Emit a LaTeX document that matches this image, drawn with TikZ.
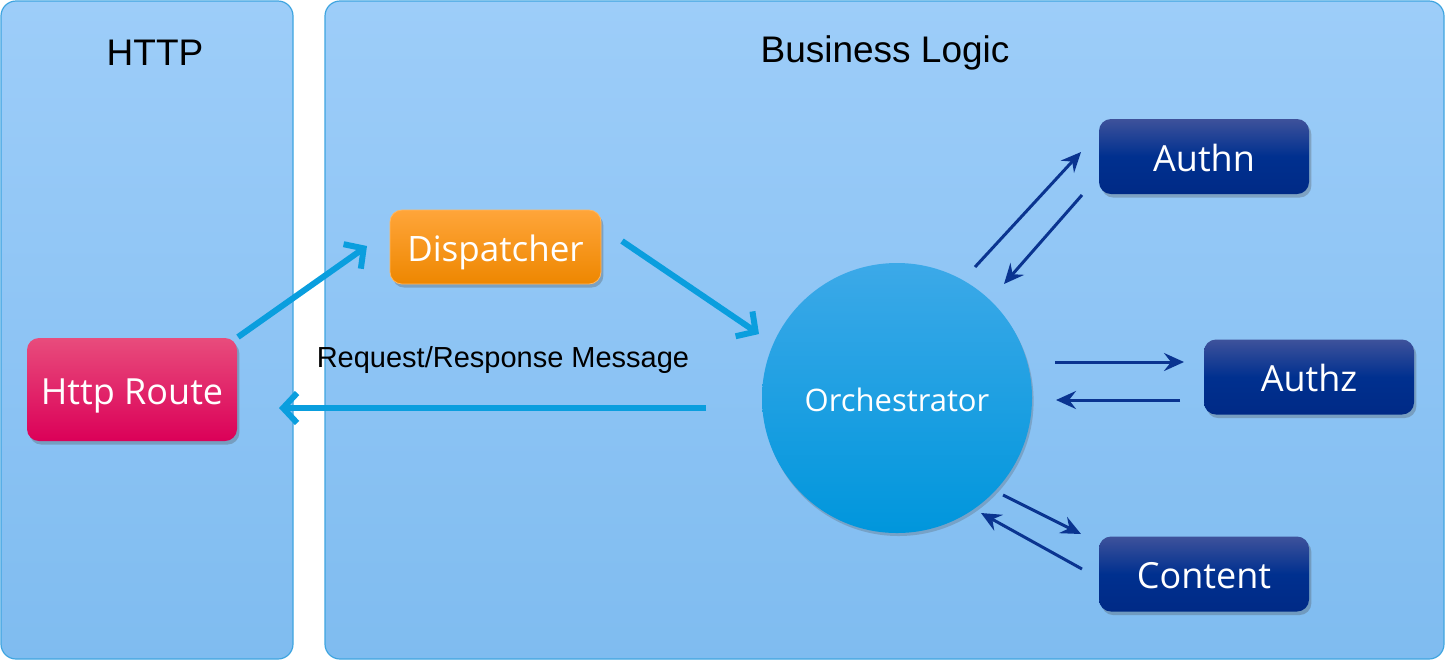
\documentclass[tikz,border=0pt]{standalone}
\usepackage{fontspec}
\setmainfont{Liberation Sans}
\newfontfamily\boxfont{Open Sans}
\usetikzlibrary{arrows.meta,shadows,positioning}
\definecolor{paneltop}{HTML}{9DCDF9}
\definecolor{panelbot}{HTML}{7FBCF0}
\definecolor{panelline}{HTML}{3FA5E0}
\definecolor{routetop}{HTML}{E84C7C}
\definecolor{routebot}{HTML}{DB0058}
\definecolor{disptop}{HTML}{FFA53A}
\definecolor{dispbot}{HTML}{EE8700}
\definecolor{navytop}{HTML}{3E529B}
\definecolor{navymid}{HTML}{00308F}
\definecolor{navybot}{HTML}{002A86}
\definecolor{orchtop}{HTML}{3CA9E8}
\definecolor{orchbot}{HTML}{0096DC}
\definecolor{thickblue}{HTML}{0A9EDE}
\definecolor{thinnavy}{HTML}{0A3490}
\tikzset{
  panel/.style={draw=panelline, line width=0.6pt, rounded corners=7.5pt,
    top color=paneltop, bottom color=panelbot},
  boxbase/.style={rectangle, rounded corners=6pt, text=white,
    font=\boxfont\fontsize{18}{20}\selectfont, inner sep=0pt,
    text height=14.8pt, text depth=0pt,
    drop shadow={shadow xshift=1.2pt, shadow yshift=-1.8pt, opacity=0.3, fill=black!70}},
  routebox/.style={boxbase, minimum width=105pt, minimum height=51.5pt,
    top color=routetop, bottom color=routebot},
  dispbox/.style={boxbase, minimum width=105.5pt, minimum height=37pt,
    top color=disptop, bottom color=dispbot, draw=disptop!80!white, line width=0.4pt,
    font=\boxfont\fontsize{17.5}{20}\selectfont},
  navybox/.style={boxbase, minimum width=105pt, minimum height=37.5pt,
    top color=navytop, bottom color=navybot, middle color=navymid},
  orchnode/.style={circle, minimum size=135pt, inner sep=0pt, text=white,
    font=\boxfont\fontsize{15.5}{18}\selectfont,
    text height=13pt, text depth=0pt,
    top color=orchtop, bottom color=orchbot,
    drop shadow={shadow xshift=0.8pt, shadow yshift=-1.5pt, opacity=0.25, fill=black!70}},
  thickarrow/.style={draw=thickblue, line width=3pt,
    -{Straight Barb[length=7pt,width=15pt]}},
  thinarrow/.style={draw=thinnavy, line width=1.5pt,
    -{Stealth[length=10pt,width=9pt,inset=3.5pt]}},
  title/.style={font=\fontsize{18.5}{22}\selectfont, text=black}
}
\begin{document}
\begin{tikzpicture}[x=0.5pt,y=-0.5pt]
\useasboundingbox (0,0) rectangle (1446,661);
% panels
\path[panel] (1,1) rectangle (293,659);
\path[panel] (325,1) rectangle (1444,659);
\node[title] (httptitle) at (155,53) {HTTP};
\node[title] (bltitle) at (885,53) {Business Logic};
% nodes
\node[routebox] (route) at (132,389.5) {Http Route};
\node[dispbox] (disp) at (495.5,247) {Dispatcher};
\node[orchnode] (orch) at (897,398) {Orchestrator};
\node[navybox] (authn) at (1204,156.5) {Authn};
\node[navybox] (authz) at (1309,377) {Authz};
\node[navybox] (content) at (1204,574) {Content};
% label
\node[font=\fontsize{14.5}{17}\selectfont] (msg) at (503,360) {Request/Response Message};
% thick arrow coordinates
\coordinate (r1) at (238,337);
\coordinate (d1) at (367,246);
\coordinate (d2) at (622,241);
\coordinate (o1) at (759,334);
\coordinate (o2) at (706,408);
\coordinate (r2) at (279,408);
\draw[thickarrow] (r1) -- (d1);
\draw[thickarrow] (d2) -- (o1);
\draw[thickarrow] (o2) -- (r2);
% thin arrow coordinates
\coordinate (oa1) at (975,267);
\coordinate (an1) at (1081,152);
\coordinate (an2) at (1082,195);
\coordinate (oa2) at (1004,284);
\coordinate (oz1) at (1055,362);
\coordinate (az1) at (1184,362);
\coordinate (az2) at (1180,400);
\coordinate (oz2) at (1056,400);
\coordinate (oc1) at (1003,495);
\coordinate (ct1) at (1081,534);
\coordinate (ct2) at (1082,569);
\coordinate (oc2) at (981,513);
\draw[thinarrow] (oa1) -- (an1);
\draw[thinarrow] (an2) -- (oa2);
\draw[thinarrow] (oz1) -- (az1);
\draw[thinarrow] (az2) -- (oz2);
\draw[thinarrow] (oc1) -- (ct1);
\draw[thinarrow] (ct2) -- (oc2);
\end{tikzpicture}
\end{document}
